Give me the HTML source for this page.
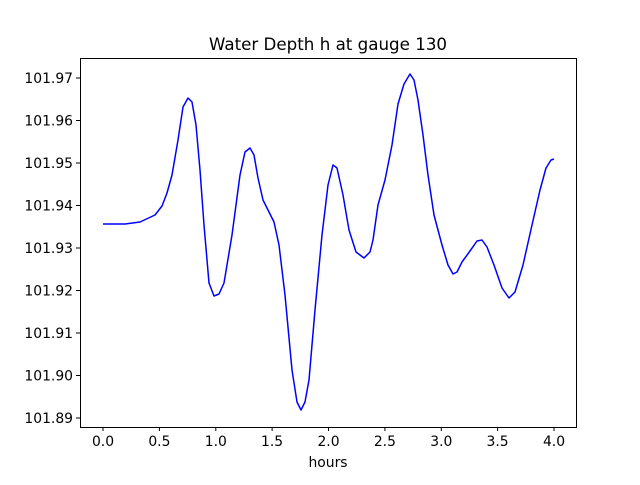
<!DOCTYPE html>
<html><head><meta charset="utf-8"><style>
body{margin:0;background:#fff}
svg text{font-family:"DejaVu Sans","Liberation Sans",sans-serif;font-size:13.9px;fill:#000}
</style></head><body>
<svg width="640" height="480" xmlns="http://www.w3.org/2000/svg">
<rect width="640" height="480" fill="#fff"/>
<text x="328" y="50" text-anchor="middle" style="font-size:16.7px">Water Depth h at gauge 130</text>
<polyline fill="none" stroke="#0000ff" stroke-width="1.5" stroke-linejoin="round" points="103,224 125,224 140,222 155,215 162,206 167,193 172,175 178,140 183,107 188,98 192,102 196,125 200,170 204,225 209,283 214,296 219,294 224,283 232,235 240,175 245,152 250,148 254,155 258,178 263,200 269,212 274,222 279,245 285,295 292,370 297,402 301,410 305,402 309,380 315,310 322,235 328,185 333,165 337,168 343,195 349,230 356,252 364,258 370,252 373,240 378,205 385,180 392,145 398,104 404,84 410,74 414,80 418,100 423,135 428,175 434,215 442,245 448,265 453,274 457,272 462,262 470,251 477,241 482,240 487,247 494,265 502,288 509,298 515,292 523,265 532,225 540,190 546,168 551,160 554,159"/>
<rect x="80.5" y="58.5" width="496" height="369" fill="none" stroke="#000" stroke-width="1"/>
<g stroke="#000" stroke-width="1">
<line x1="103" y1="427" x2="103" y2="431"/><line x1="159.4" y1="427" x2="159.4" y2="431"/><line x1="215.8" y1="427" x2="215.8" y2="431"/><line x1="272.1" y1="427" x2="272.1" y2="431"/><line x1="328.5" y1="427" x2="328.5" y2="431"/><line x1="384.9" y1="427" x2="384.9" y2="431"/><line x1="441.3" y1="427" x2="441.3" y2="431"/><line x1="497.6" y1="427" x2="497.6" y2="431"/><line x1="554" y1="427" x2="554" y2="431"/>
<line x1="76" y1="78" x2="80" y2="78"/><line x1="76" y1="120.5" x2="80" y2="120.5"/><line x1="76" y1="163" x2="80" y2="163"/><line x1="76" y1="205.5" x2="80" y2="205.5"/><line x1="76" y1="248" x2="80" y2="248"/><line x1="76" y1="290.5" x2="80" y2="290.5"/><line x1="76" y1="333" x2="80" y2="333"/><line x1="76" y1="375.5" x2="80" y2="375.5"/><line x1="76" y1="418" x2="80" y2="418"/>
</g>
<g text-anchor="middle">
<text x="103" y="446">0.0</text><text x="159.4" y="446">0.5</text><text x="215.8" y="446">1.0</text><text x="272.1" y="446">1.5</text><text x="328.5" y="446">2.0</text><text x="384.9" y="446">2.5</text><text x="441.3" y="446">3.0</text><text x="497.6" y="446">3.5</text><text x="554" y="446">4.0</text>
<text x="328" y="467">hours</text>
</g>
<g text-anchor="end">
<text x="73" y="83">101.97</text><text x="73" y="125.5">101.96</text><text x="73" y="168">101.95</text><text x="73" y="210.5">101.94</text><text x="73" y="253">101.93</text><text x="73" y="295.5">101.92</text><text x="73" y="338">101.91</text><text x="73" y="380.5">101.90</text><text x="73" y="423">101.89</text>
</g>
</svg>
</body></html>
